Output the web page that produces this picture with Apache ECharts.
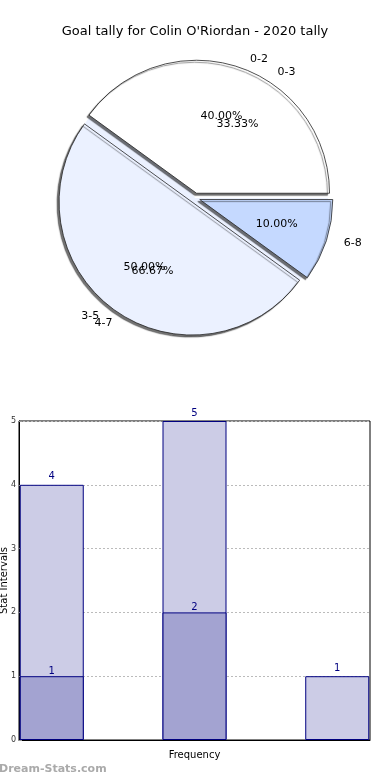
<!DOCTYPE html>
<html><head><meta charset="utf-8">
<script src="https://cdn.jsdelivr.net/npm/echarts@6/dist/echarts.min.js"></script>
<style>html,body{margin:0;padding:0;background:#fff}#c{width:390px;height:780px}</style>
</head><body><div id="c"></div>
<script>
// ---- data ----
var titleText = "Goal tally for Colin O'Riordan - 2020 tally";
var pieNamesA = ['0-2', '3-5', '6-8'];
var pieValuesA = [4, 5, 1];
var pieNamesB = ['0-3', '4-7'];
var pieValuesB = [1, 2];
var pieColorsA = ['#ffffff', '#ebf1ff', '#c5d9ff'];
var pieColorsB = ['#ffffff', '#ebf1ff'];
var barPositions = [0, 1, 2];
var barLight = [4, 5, 1];
var barDark = [1, 2, null];
var yTicks = [0, 1, 2, 3, 4, 5];

var FONT = 'DejaVu Sans';
function sum(a){return a.reduce(function(s,v){return s+v;},0);}
function pct(v, arr){return (v/sum(arr)*100).toFixed(2)+'%';}

var center = [195, 198];
var R = 133;

function pieData(names, vals, colors, sel, transparent){
  return names.map(function(n,i){
    return {name:n, value:vals[i], selected: !!sel,
      itemStyle: transparent ? {color:'rgba(0,0,0,0)', borderWidth:0, shadowBlur:0} : {color:colors[i]}};
  });
}

function outsideLabel(){return {show:true, position:'outside', formatter:'{b}', color:'#000', fontFamily:FONT, fontSize:11};}
var noHide = {hideOverlap:false, moveOverlap:null};

var chart = echarts.init(document.getElementById('c'), null, {renderer:'canvas'});
chart.setOption({
  animation:false,
  backgroundColor:'#fff',
  title:{text:titleText, left:'center', top:20, textStyle:{fontFamily:FONT, fontSize:13, fontWeight:'normal', color:'#000'}},
  graphic:[{type:'text', left:-1, top:764, style:{text:'Dream-Stats.com', fill:'#aaa', font:'bold 11px "'+FONT+'"'}}],
  grid:{left:19, right:20, top:421, bottom:40, containLabel:false, outerBoundsMode:'none',
    show:true, borderColor:'#000', borderWidth:1, backgroundColor:'transparent'},
  xAxis:{type:'value', min:-0.2295, max:2.2295, axisLabel:{show:false}, axisTick:{show:false}, splitLine:{show:false},
    axisLine:{show:true, onZero:false, lineStyle:{color:'#000'}},
    name:'Frequency', nameLocation:'middle', nameGap:10, nameMoveOverlap:false,
    nameTextStyle:{fontFamily:FONT, fontSize:10, color:'#000'}},
  yAxis:{type:'value', min:yTicks[0], max:yTicks[yTicks.length-1], interval:1,
    axisLine:{show:true, onZero:false, lineStyle:{color:'#000'}},
    axisTick:{show:true, length:3, inside:true, lineStyle:{color:'#999'}},
    axisLabel:{fontFamily:FONT, fontSize:8, color:'#333', margin:3},
    splitLine:{show:true, lineStyle:{color:'#bbb', type:[2,2], width:1}},
    name:'Stat Intervals', nameLocation:'middle', nameGap:10, nameMoveOverlap:false,
    nameTextStyle:{fontFamily:FONT, fontSize:10, color:'#000'}},
  series:[
    {type:'pie', z:1, silent:true, center:center, radius:[0,R], startAngle:0, clockwise:false,
      label:{show:false}, labelLine:{show:false},
      itemStyle:{borderWidth:0},
      data:pieData(pieNamesB, pieValuesB, pieColorsB, false, false)},
    {type:'pie', z:2, center:center, radius:[0,R], startAngle:0, clockwise:false,
      selectedMode:'multiple', selectedOffset:5, avoidLabelOverlap:false, labelLayout:noHide,
      label:outsideLabel(), labelLine:{show:false, length:8, length2:5},
      itemStyle:{borderColor:'#222', borderWidth:0.8, shadowColor:'rgba(0,0,0,0.55)', shadowBlur:1, shadowOffsetX:-2, shadowOffsetY:2},
      data:pieData(pieNamesA, pieValuesA, pieColorsA, true, false)},
    {type:'pie', z:3, silent:true, center:center, radius:[0,2*78], startAngle:0, clockwise:false,
      selectedMode:'multiple', selectedOffset:5, avoidLabelOverlap:false, labelLayout:noHide,
      label:{show:true, position:'inside', color:'#000', fontFamily:FONT, fontSize:11,
        formatter:function(p){return pct(p.value, pieValuesA);}},
      labelLine:{show:false},
      data:pieData(pieNamesA, pieValuesA, pieColorsA, true, true)},
    {type:'pie', z:3, silent:true, center:center, radius:[0,R], startAngle:0, clockwise:false,
      avoidLabelOverlap:false, labelLayout:noHide,
      label:outsideLabel(), labelLine:{show:false, length:12, length2:5},
      data:pieData(pieNamesB, pieValuesB, pieColorsB, false, true)},
    {type:'pie', z:3, silent:true, center:center, radius:[0,2*82], startAngle:0, clockwise:false,
      avoidLabelOverlap:false, labelLayout:noHide,
      label:{show:true, position:'inside', color:'#000', fontFamily:FONT, fontSize:11,
        formatter:function(p){return pct(p.value, pieValuesB);}},
      labelLine:{show:false},
      data:pieData(pieNamesB, pieValuesB, pieColorsB, false, true)},
    {type:'bar', barWidth:64, barGap:'-100%', z:2,
      itemStyle:{color:'#ccccE6', borderColor:'#000080', borderWidth:1},
      label:{show:true, position:'top', color:'#000080', fontFamily:FONT, fontSize:10, distance:3},
      data:barPositions.map(function(x,i){return [x, barLight[i]];})},
    {type:'bar', barWidth:64, barGap:'-100%', z:3,
      itemStyle:{color:'#a3a3d1', borderColor:'#000080', borderWidth:1},
      label:{show:true, position:'top', color:'#000080', fontFamily:FONT, fontSize:10, distance:0},
      data:barPositions.map(function(x,i){return [x, barDark[i]];})}
  ]
});
</script></body></html>
